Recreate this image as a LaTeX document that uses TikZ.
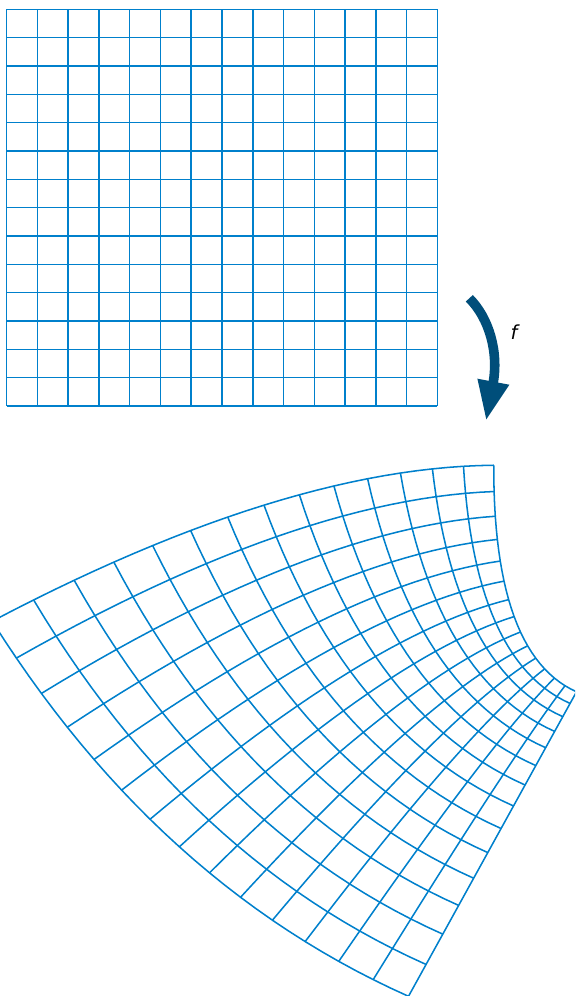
\documentclass[tikz,border=0pt]{standalone}
\usepackage{fontspec}
\setsansfont{DejaVu Sans}
\usepackage{tikz}
\usetikzlibrary{arrows.meta}
\definecolor{gridblue}{RGB}{0,128,204}
\definecolor{arrowblue}{RGB}{0,78,122}
\tikzset{
    gridline/.style={draw=gridblue, line width=1.15pt},
    maparrow/.style={draw=arrowblue, line width=7.2pt,
        -{Triangle[length=30pt, width=22pt]}},
    maplabel/.style={font=\sffamily\itshape\fontsize{14.5}{17}\selectfont}
}

\begin{document}
\begin{tikzpicture}[x=0.75pt, y=-0.75pt,
    declare function={
        mapx(\s,\t)=597.51-0.4286*((7+\s)*(7+\s)-(\t-14)*(\t-14))+1.7016*(7+\s)*(\t-14);
        mapy(\s,\t)=653.72+0.7768*((7+\s)*(7+\s)-(\t-14)*(\t-14))+0.758*(7+\s)*(\t-14);
    }]
\useasboundingbox (0,0) rectangle (575,996);
\foreach \k in {0,...,14} {
    \draw[gridline] ({6.7+\k*30.757},9.3) -- ({6.7+\k*30.757},406);
    \draw[gridline] (6.7,{9.3+\k*28.336}) -- (437.3,{9.3+\k*28.336});
}
\coordinate (tail) at (469.3,298.3);
\coordinate (tip) at (486,421);
\draw[maparrow] (tail) .. controls (489,318) and (499,352) .. (tip);
\node[maplabel] (flabel) at (514,332) {f};
\begin{scope}
\clip (0,0) rectangle (575,996);
\foreach \k in {0,...,14} {
    \draw[gridline] plot[domain=0:14, samples=29] ({mapx(\k,\x)},{mapy(\k,\x)});
    \draw[gridline] plot[domain=0:14, samples=29] ({mapx(\x,\k)},{mapy(\x,\k)});
}
\end{scope}
\end{tikzpicture}
\end{document}
